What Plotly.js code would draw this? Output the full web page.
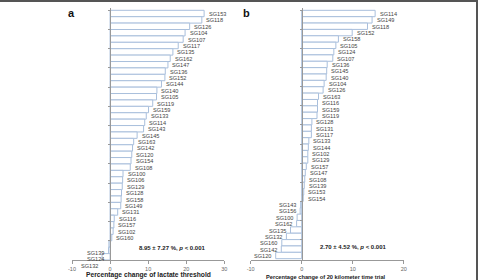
<!DOCTYPE html>
<html><head><meta charset="utf-8">
<script src="https://cdn.plot.ly/plotly-3.0.1.min.js"></script>
<style>
html,body{margin:0;padding:0;background:#fff;}
#wrap{position:relative;width:478px;height:280px;overflow:hidden;}
#chart{position:absolute;left:0;top:0;width:478px;height:280px;}
#bt{position:absolute;left:0;top:0;width:478px;height:2px;background:#555;}
#br{position:absolute;left:476px;top:0;width:2px;height:280px;background:#555;}
</style></head>
<body><div id="wrap"><div id="chart"></div><div id="bt"></div><div id="br"></div></div>
<script>
// Panel a: percentage change of lactate threshold
const subjectsA = ["SG153","SG118","SG126","SG104","SG107","SG117","SG135","SG162","SG147","SG136","SG152","SG144","SG140","SG105","SG119","SG159","SG133","SG114","SG143","SG145","SG163","SG142","SG120","SG154","SG108","SG100","SG106","SG129","SG128","SG158","SG149","SG131","SG116","SG157","SG102","SG160","SG139","SG124","SG132"];
const valuesA = [24.7,24.1,20.9,19.7,19.2,17.9,16.5,15.8,15.2,14.5,14.4,13.5,12.3,12.2,11.2,10.1,9.5,9.1,8.8,7.1,6.2,5.9,5.7,5.5,5.3,3.4,3.3,3.2,3.0,2.9,2.8,2.0,1.1,1.0,0.8,0.45,-0.3,-0.4,-2.1];
// Panel b: percentage change of 20 km time trial
const subjectsB = ["SG114","SG149","SG118","SG152","SG158","SG105","SG124","SG107","SG136","SG145","SG140","SG104","SG126","SG163","SG116","SG159","SG119","SG128","SG131","SG117","SG133","SG144","SG102","SG129","SG157","SG147","SG108","SG139","SG153","SG154","SG143","SG156","SG100","SG162","SG135","SG132","SG160","SG142","SG120"];
const valuesB = [14.4,13.8,12.9,9.9,7.2,6.7,6.3,6.1,5.0,4.9,4.8,4.4,4.2,3.3,3.1,3.1,3.0,2.0,1.9,1.9,1.4,1.3,1.2,1.2,0.9,0.7,0.6,0.5,0.4,0.3,-0.2,-0.3,-0.9,-1.0,-2.2,-3.0,-3.9,-4.0,-5.1];
const tickValsA = [-10,0,10,20,30];
const tickValsB = [-10,0,10,20];
const statA = "8.95 ± 7.27 %, <i>p</i> < 0.001";
const statB = "2.70 ± 4.52 %, <i>p</i> < 0.001";
const titleA = "Percentage change of lactate threshold";
const titleB = "Percentage change of 20 kilometer time trial";

const W = 478, H = 280;
const FONT = "Liberation Sans, Arial, sans-serif";
const domXA = [72/W, 224.3/W], rangeA = [-10,30];
const domXB = [250.7/W, 403.7/W], rangeB = [-10,20];
const domY = [1-260/H, 1-8/H];
function zeroPos(dom, rng){ return dom[0] + (0-rng[0])/(rng[1]-rng[0])*(dom[1]-dom[0]); }

const barStyle = {color:"#ffffff", line:{color:"#a9bfdc", width:1}};
const traces = [
  {type:"bar", orientation:"h", x:valuesA, y:subjectsA, xaxis:"x", yaxis:"y", marker:barStyle, hoverinfo:"x+y"},
  {type:"bar", orientation:"h", x:valuesB, y:subjectsB, xaxis:"x2", yaxis:"y2", marker:barStyle, hoverinfo:"x+y"}
];

const ann = [];
function labels(subj, vals, xr, yr, negShift){
  subj.forEach((s,i)=>{
    const v = vals[i];
    const pos = v >= 0;
    ann.push({xref:xr, yref:yr, x:v, y:s, text:s, showarrow:false,
      xanchor: pos ? "left" : "right", yanchor:"middle", xshift: pos ? 2.5 : -2.5,
      yshift: pos ? -0.5 : negShift,
      font:{family:FONT, size:5.6, color:"#444"}});
  });
}
labels(subjectsA, valuesA, "x", "y", -9);
labels(subjectsB, valuesB, "x2", "y2", -0.5);
function txt(px, py, text, size, color){
  ann.push({xref:"paper", yref:"paper", x:px/W, y:1-py/H, text:text, showarrow:false,
    xanchor:"center", yanchor:"middle",
    font:{family:FONT, size:size, color:color, weight:"bold"}});
}
txt(172.8, 247.7, statA, 6, "#222");
txt(353.8, 247.3, statB, 6, "#222");
txt(148.3, 275, titleA, 6.7, "#222");
txt(325.5, 276.5, titleB, 5.7, "#222");
txt(71, 13, "a", 11, "#111");
txt(246.5, 13, "b", 11, "#111");

const xax = (dom, rng, tv, anchor) => ({domain:dom, range:rng, tickvals:tv, ticktext:tv.map(String),
  anchor:anchor, showline:true, linecolor:"#999", linewidth:1, ticks:"outside", ticklen:3, tickcolor:"#999",
  showgrid:false, zeroline:false, tickfont:{family:FONT, size:5.5, color:"#666"}, fixedrange:true});
const yax = (pos) => ({domain:domY, autorange:"reversed", type:"category", anchor:"free", position:pos,
  showline:true, linecolor:"#999", linewidth:1, ticks:"outside", ticklen:2, tickcolor:"#999",
  tickson:"boundaries", showticklabels:false, showgrid:false, zeroline:false, fixedrange:true});

const layout = {
  width:W, height:H, margin:{l:0,r:0,t:0,b:0}, paper_bgcolor:"#fff", plot_bgcolor:"rgba(0,0,0,0)",
  showlegend:false, bargap:0,
  xaxis: xax(domXA, rangeA, tickValsA, "y"),
  yaxis: yax(zeroPos(domXA, rangeA)),
  xaxis2: xax(domXB, rangeB, tickValsB, "y2"),
  yaxis2: yax(zeroPos(domXB, rangeB)),
  annotations: ann,
  font:{family:FONT}
};
Plotly.newPlot("chart", traces, layout, {displayModeBar:false, staticPlot:true});
</script></body></html>
